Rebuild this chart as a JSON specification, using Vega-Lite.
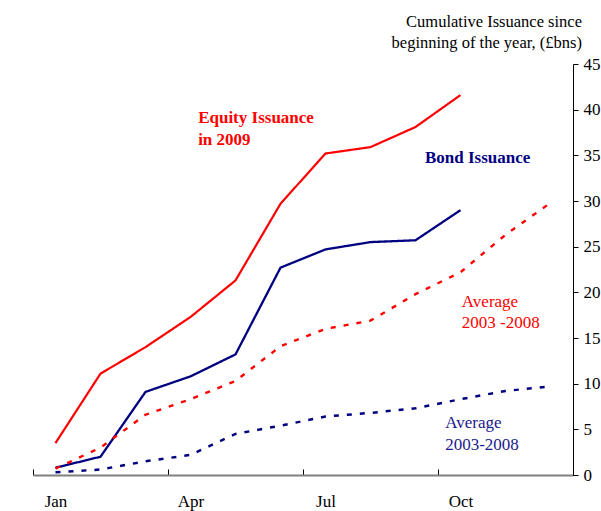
{
  "$schema": "https://vega.github.io/schema/vega-lite/v6.json",
  "width": 540,
  "height": 411,
  "autosize": "none",
  "padding": {"left": 33, "top": 64, "right": 28, "bottom": 36},
  "background": "white",
  "title": {
    "text": ["Cumulative Issuance since", "beginning of the year, (£bns)"],
    "anchor": "end",
    "frame": "group",
    "font": "Liberation Serif",
    "fontSize": 16.5,
    "fontWeight": "normal",
    "color": "black",
    "dx": 9,
    "lineHeight": 21,
    "offset": 4
  },
  "config": {
    "view": {"stroke": null},
    "axis": {
      "grid": false,
      "title": null,
      "labelFont": "Liberation Serif",
      "labelFontSize": 17,
      "labelColor": "black",
      "tickColor": "black",
      "labelFlush": false,
      "labelOverlap": false
    },
    "axisX": {
      "tickSize": -6,
      "domainColor": "#808080",
      "domainWidth": 2,
      "labelPadding": 24
    },
    "axisY": {
      "tickSize": 5,
      "domainColor": "black",
      "labelPadding": 5
    }
  },
  "datasets": {
    "issuance": [
      {"month": 1, "value": 3.5, "series": "Equity Issuance in 2009"},
      {"month": 2, "value": 11.1, "series": "Equity Issuance in 2009"},
      {"month": 3, "value": 14.0, "series": "Equity Issuance in 2009"},
      {"month": 4, "value": 17.3, "series": "Equity Issuance in 2009"},
      {"month": 5, "value": 21.3, "series": "Equity Issuance in 2009"},
      {"month": 6, "value": 29.7, "series": "Equity Issuance in 2009"},
      {"month": 7, "value": 35.2, "series": "Equity Issuance in 2009"},
      {"month": 8, "value": 35.9, "series": "Equity Issuance in 2009"},
      {"month": 9, "value": 38.1, "series": "Equity Issuance in 2009"},
      {"month": 10, "value": 41.6, "series": "Equity Issuance in 2009"},
      {"month": 1, "value": 0.8, "series": "Bond Issuance in 2009"},
      {"month": 2, "value": 2.0, "series": "Bond Issuance in 2009"},
      {"month": 3, "value": 9.1, "series": "Bond Issuance in 2009"},
      {"month": 4, "value": 10.8, "series": "Bond Issuance in 2009"},
      {"month": 5, "value": 13.2, "series": "Bond Issuance in 2009"},
      {"month": 6, "value": 22.7, "series": "Bond Issuance in 2009"},
      {"month": 7, "value": 24.7, "series": "Bond Issuance in 2009"},
      {"month": 8, "value": 25.5, "series": "Bond Issuance in 2009"},
      {"month": 9, "value": 25.7, "series": "Bond Issuance in 2009"},
      {"month": 10, "value": 29.0, "series": "Bond Issuance in 2009"},
      {"month": 1, "value": 0.7, "series": "Equity Average 2003-2008"},
      {"month": 2, "value": 3.0, "series": "Equity Average 2003-2008"},
      {"month": 3, "value": 6.6, "series": "Equity Average 2003-2008"},
      {"month": 4, "value": 8.3, "series": "Equity Average 2003-2008"},
      {"month": 5, "value": 10.3, "series": "Equity Average 2003-2008"},
      {"month": 6, "value": 14.1, "series": "Equity Average 2003-2008"},
      {"month": 7, "value": 16.0, "series": "Equity Average 2003-2008"},
      {"month": 8, "value": 16.9, "series": "Equity Average 2003-2008"},
      {"month": 9, "value": 19.8, "series": "Equity Average 2003-2008"},
      {"month": 10, "value": 22.2, "series": "Equity Average 2003-2008"},
      {"month": 11, "value": 26.3, "series": "Equity Average 2003-2008"},
      {"month": 12, "value": 29.8, "series": "Equity Average 2003-2008"},
      {"month": 1, "value": 0.3, "series": "Bond Average 2003-2008"},
      {"month": 2, "value": 0.6, "series": "Bond Average 2003-2008"},
      {"month": 3, "value": 1.5, "series": "Bond Average 2003-2008"},
      {"month": 4, "value": 2.2, "series": "Bond Average 2003-2008"},
      {"month": 5, "value": 4.5, "series": "Bond Average 2003-2008"},
      {"month": 6, "value": 5.4, "series": "Bond Average 2003-2008"},
      {"month": 7, "value": 6.4, "series": "Bond Average 2003-2008"},
      {"month": 8, "value": 6.8, "series": "Bond Average 2003-2008"},
      {"month": 9, "value": 7.3, "series": "Bond Average 2003-2008"},
      {"month": 10, "value": 8.3, "series": "Bond Average 2003-2008"},
      {"month": 11, "value": 9.2, "series": "Bond Average 2003-2008"},
      {"month": 12, "value": 9.7, "series": "Bond Average 2003-2008"}
    ],
    "labels": [
      {"label": "Equity Issuance in 2009"}
    ]
  },
  "layer": [
    {
      "data": {"name": "issuance"},
      "mark": {"type": "line", "clip": false},
      "encoding": {
        "x": {
          "field": "month",
          "type": "quantitative",
          "scale": {"domain": [0.5, 12.5], "nice": false, "zero": false},
          "axis": {
            "values": [0.5, 1, 3.5, 4, 6.5, 7, 9.5, 10, 12.5],
            "labelExpr": "datum.value == 1 ? 'Jan' : datum.value == 4 ? 'Apr' : datum.value == 7 ? 'Jul' : datum.value == 10 ? 'Oct' : ''",
            "tickOpacity": {"condition": {"test": "datum.value % 1 == 0", "value": 0}, "value": 1}
          }
        },
        "y": {
          "field": "value",
          "type": "quantitative",
          "scale": {"domain": [0, 45], "nice": false},
          "axis": {
            "orient": "right",
            "values": [0, 5, 10, 15, 20, 25, 30, 35, 40, 45]
          }
        },
        "detail": {"field": "series"},
        "color": {
          "field": "series",
          "type": "nominal",
          "scale": {
            "domain": ["Equity Issuance in 2009", "Bond Issuance in 2009", "Equity Average 2003-2008", "Bond Average 2003-2008"],
            "range": ["#FF0000", "#000080", "#FF0000", "#000080"]
          },
          "legend": null
        },
        "strokeDash": {
          "field": "series",
          "type": "nominal",
          "scale": {
            "domain": ["Equity Issuance in 2009", "Bond Issuance in 2009", "Equity Average 2003-2008", "Bond Average 2003-2008"],
            "range": [[1, 0], [1, 0], [5, 8], [5, 8]]
          },
          "legend": null
        },
        "strokeWidth": {
          "field": "series",
          "type": "nominal",
          "scale": {
            "domain": ["Equity Issuance in 2009", "Bond Issuance in 2009", "Equity Average 2003-2008", "Bond Average 2003-2008"],
            "range": [2.2, 2.5, 3, 4.5]
          },
          "legend": null
        }
      }
    },
    {
      "data": {"values": [{"label": "Equity Issuance"}]},
      "mark": {"type": "text", "align": "left", "baseline": "alphabetic", "font": "Liberation Serif", "fontSize": 17, "fontWeight": "bold", "color": "#FF0000", "lineHeight": 22},
      "encoding": {
        "x": {"datum": 4.17, "type": "quantitative"},
        "y": {"datum": 38.5, "type": "quantitative"},
        "text": {"value": ["Equity Issuance", "in 2009"]}
      }
    },
    {
      "data": {"values": [{"label": "Bond Issuance"}]},
      "mark": {"type": "text", "align": "left", "baseline": "alphabetic", "font": "Liberation Serif", "fontSize": 17, "fontWeight": "bold", "color": "#000080"},
      "encoding": {
        "x": {"datum": 9.21, "type": "quantitative"},
        "y": {"datum": 34.2, "type": "quantitative"},
        "text": {"value": "Bond Issuance"}
      }
    },
    {
      "data": {"values": [{"label": "Equity Average"}]},
      "mark": {"type": "text", "align": "left", "baseline": "alphabetic", "font": "Liberation Serif", "fontSize": 17, "color": "#FF0000", "lineHeight": 21},
      "encoding": {
        "x": {"datum": 10.03, "type": "quantitative"},
        "y": {"datum": 18.4, "type": "quantitative"},
        "text": {"value": ["Average", "2003 -2008"]}
      }
    },
    {
      "data": {"values": [{"label": "Bond Average"}]},
      "mark": {"type": "text", "align": "left", "baseline": "alphabetic", "font": "Liberation Serif", "fontSize": 17, "color": "#1a1a8c", "lineHeight": 22},
      "encoding": {
        "x": {"datum": 9.66, "type": "quantitative"},
        "y": {"datum": 5.15, "type": "quantitative"},
        "text": {"value": ["Average", "2003-2008"]}
      }
    }
  ]
}
